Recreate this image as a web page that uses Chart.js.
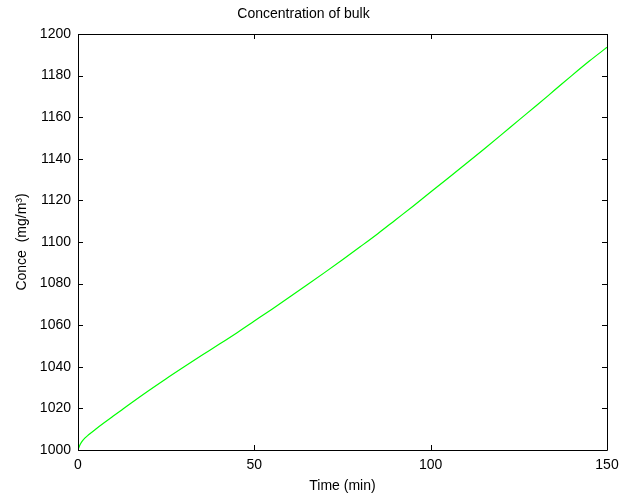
<!DOCTYPE html>
<html>
<head>
<meta charset="utf-8">
<script src="https://cdn.jsdelivr.net/npm/chart.js@4/dist/chart.umd.min.js"></script>
<style>
  html, body { margin: 0; padding: 0; background: #ffffff; }
  #wrap { width: 621px; height: 497px; }
</style>
</head>
<body>
<div id="wrap"><canvas id="c" width="621" height="497"></canvas></div>
<script>
// ---- Data ----
const timeMin = [0, 0.5, 1, 2, 3, 5, 7.5, 10, 12.5, 15, 20, 25, 30, 35, 40, 45, 50, 55, 60, 65, 70, 75, 80, 85, 90, 95, 100, 105, 110, 115, 120, 125, 130, 135, 140, 145, 150];
const conc    = [1000, 1002.3, 1003.8, 1005.8, 1007.3, 1010, 1013.2, 1016.3, 1019.4, 1022.5, 1028.5, 1034.3, 1039.9, 1045.4, 1050.8, 1056.3, 1062, 1067.7, 1073.5, 1079.4, 1085.4, 1091.5, 1097.7, 1104, 1110.6, 1117.2, 1124, 1130.8, 1137.6, 1144.5, 1151.5, 1158.6, 1165.6, 1172.8, 1180, 1187, 1193.6];
const xTickValues = [0, 50, 100, 150];
const yTickValues = [1000, 1020, 1040, 1060, 1080, 1100, 1120, 1140, 1160, 1180, 1200];
const chartTitle = 'Concentration of bulk';
const xTitle = 'Time (min)';
const yTitle = 'Conce  (mg/m\u00b3)';

const FONT = 'Liberation Sans, Arial, Helvetica, sans-serif';

// Draws the MATLAB-style box and inward tick marks on all four sides
const boxTicks = {
  id: 'boxTicks',
  afterDatasetsDraw(chart) {
    const {ctx, chartArea: a, scales} = chart;
    const len = 5;
    ctx.save();
    ctx.strokeStyle = '#000';
    ctx.lineWidth = 1;
    ctx.beginPath();
    ctx.rect(Math.round(a.left) + 0.5, Math.round(a.top) + 0.5,
             Math.round(a.right - a.left), Math.round(a.bottom - a.top));
    ctx.stroke();
    ctx.beginPath();
    scales.x.ticks.forEach(t => {
      const px = Math.round(scales.x.getPixelForValue(t.value)) + 0.5;
      ctx.moveTo(px, a.bottom); ctx.lineTo(px, a.bottom - len);
      ctx.moveTo(px, a.top); ctx.lineTo(px, a.top + len);
    });
    scales.y.ticks.forEach(t => {
      const py = Math.round(scales.y.getPixelForValue(t.value)) + 0.5;
      ctx.moveTo(a.left, py); ctx.lineTo(a.left + len, py);
      ctx.moveTo(a.right, py); ctx.lineTo(a.right - len, py);
    });
    ctx.stroke();
    ctx.restore();
  }
};

new Chart(document.getElementById('c'), {
  type: 'line',
  data: {
    datasets: [{
      label: 'bulk',
      data: timeMin.map((t, i) => ({x: t, y: conc[i]})),
      borderColor: 'rgb(0,255,0)',
      borderWidth: 1.2,
      pointRadius: 0,
      fill: false,
      cubicInterpolationMode: 'monotone'
    }]
  },
  options: {
    responsive: false,
    animation: false,
    events: [],
    layout: { padding: { left: 0, right: 14, top: 0, bottom: 0 } },
    plugins: {
      legend: { display: false },
      tooltip: { enabled: false },
      title: {
        display: true,
        text: chartTitle,
        color: '#000',
        font: { family: FONT, size: 14, weight: 'normal' },
        padding: { top: 5.6, bottom: 11.6 }
      }
    },
    scales: {
      x: {
        type: 'linear',
        min: 0, max: 150,
        afterBuildTicks(scale) { scale.ticks = xTickValues.map(v => ({value: v})); },
        afterFit(scale) { scale.height = 47; scale.paddingLeft = 0; scale.paddingRight = 0; },
        grid: { display: false, drawTicks: false },
        border: { display: false },
        ticks: {
          color: '#000', padding: 7,
          maxRotation: 0, autoSkip: false,
          font: { family: FONT, size: 14 },
          callback: v => String(v)
        },
        title: {
          display: true, text: xTitle, color: '#000',
          font: { family: FONT, size: 14 },
          padding: { top: 0, bottom: 2 }
        }
      },
      y: {
        type: 'linear',
        min: 1000, max: 1200,
        afterBuildTicks(scale) { scale.ticks = yTickValues.map(v => ({value: v})); },
        afterFit(scale) { scale.width = 78; scale.paddingTop = 0; scale.paddingBottom = 0; },
        grid: { display: false, drawTicks: false },
        border: { display: false },
        ticks: {
          color: '#000', padding: 7, autoSkip: false,
          font: { family: FONT, size: 14 },
          callback: v => String(v)
        },
        title: {
          display: true, text: yTitle, color: '#000',
          font: { family: FONT, size: 14 },
          padding: { top: 13.6, bottom: 0 }
        }
      }
    }
  },
  plugins: [boxTicks]
});
</script>
</body>
</html>
